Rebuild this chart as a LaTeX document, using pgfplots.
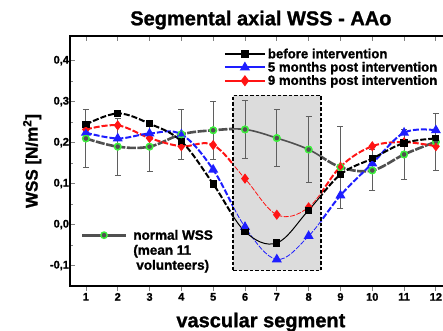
\documentclass[border=0pt]{standalone}
\usepackage{pgfplots}
\pgfplotsset{compat=1.18}
\usepackage{fontspec}
\setmainfont{Liberation Sans}[BoldFeatures={FakeBold=1.2}]
\definecolor{boxgray}{RGB}{220,220,220}
\definecolor{normgray}{RGB}{80,80,80}
\definecolor{errgray}{RGB}{95,95,95}
\definecolor{mygreen}{RGB}{60,240,60}
\definecolor{myblue}{RGB}{30,30,255}
\definecolor{myred}{RGB}{255,20,20}
\pgfplotstableread{
x  y      e
1  0.21   0.07
2  0.19   0.07
3  0.19   0.06
4  0.22   0.06
5  0.23   0.07
6  0.232  0.07
7  0.211  0.07
8  0.183  0.08
9  0.14   0.10
10 0.132  0.05
11 0.171  0.06
12 0.202  0.07
}\normaltab
\pgfplotstableread{
x  y
1  0.232
2  0.242
3  0.211
4  0.191
5  0.194
6  0.112
7  0.024
8  0.042
9  0.141
10 0.191
11 0.201
12 0.191
}\ninetab
\pgfplotstableread{
x  y
1  0.224
2  0.21
3  0.222
4  0.22
5  0.134
6  -0.006
7  -0.085
8  -0.028
9  0.071
10 0.149
11 0.224
12 0.23
}\fivetab
\pgfplotstableread{
x  y
1  0.244
2  0.271
3  0.246
4  0.203
5  0.099
6  -0.017
7  -0.045
8  0.035
9  0.122
10 0.161
11 0.199
12 0.21
}\beforetab
\begin{document}
\begin{tikzpicture}
\useasboundingbox (-70pt,-44pt) rectangle (373pt,286pt);
\clip (-70pt,-44pt) rectangle (373pt,286pt);
\begin{axis}[
  scale only axis, width=381.8pt, height=250pt,
  xmin=0.5, xmax=12.5, ymin=-0.15, ymax=0.46,
  xtick={1,2,3,4,5,6,7,8,9,10,11,12},
  ytick={-0.1,0,0.1,0.2,0.3,0.4},
  yticklabels={{-0,1},{0,0},{0,1},{0,2},{0,3},{0,4}},
  minor y tick num=1,
  tick align=center,
  major tick length=5pt, minor tick length=3pt,
  major x tick style={yshift=-2.5pt, line width=0.8pt},
  major y tick style={xshift=2.5pt, line width=0.8pt},
  minor y tick style={xshift=1.5pt, line width=0.8pt},
  ytick pos=left,
  axis line style={line width=1.2pt},
  axis on top,
  /pgf/number format/assume math mode=true,
  ticklabel style={font=\bfseries\fontsize{11}{13}\selectfont},
  x tick label style={yshift=-1pt},
  y tick label style={xshift=5pt},
  title={\bfseries\fontsize{20}{23}\selectfont Segmental axial WSS - AAo},
  title style={yshift=-3pt},
  xlabel={\bfseries\fontsize{20}{23}\selectfont vascular segment},
  xlabel style={yshift=-5pt},
  ylabel={\bfseries\fontsize{17}{20}\selectfont WSS [N/m$^{\mathbf 2}$]},
  ylabel style={yshift=2pt},
  legend style={at={(0.40,0.962)}, anchor=north west, draw=none, fill=none,
    font=\bfseries\fontsize{13.2}{15}\selectfont, row sep=-1.8pt,
    inner sep=1pt},
  legend cell align=left,
  legend image code/.code={\draw[mark repeat=2,mark phase=2,#1] plot coordinates {(0pt,0pt) (20pt,0pt) (40pt,0pt)};},
  legend image post style={solid, sharp plot},
]
% --- thick curves (outside the highlighted region) ---
\addplot[forget plot, color=normgray, line width=2.6pt, dash pattern=on 9pt off 1.5pt, smooth, tension=0.6,
  mark=*, mark size=3.2pt, mark options={solid, draw=mygreen, fill=normgray, line width=1.4pt},
  error bars/.cd, y dir=both, y explicit,
  error bar style={solid, line width=0.9pt, color=errgray},
  error mark options={rotate=90, mark size=3pt, line width=0.9pt, color=errgray}]
  table[x=x, y=y, y error=e] {\normaltab};
\addplot[forget plot, color=myred, line width=2pt, dash pattern=on 6pt off 2pt, smooth, tension=0.6,
  mark=diamond*, mark size=3.5pt, mark options={solid}] table[x=x,y=y] {\ninetab};
\addplot[forget plot, color=myblue, line width=2pt, dash pattern=on 6pt off 2pt, smooth, tension=0.6,
  mark=triangle*, mark size=3.8pt, mark options={solid}] table[x=x,y=y] {\fivetab};
\addplot[forget plot, color=black, line width=2pt, dash pattern=on 6pt off 2pt, smooth, tension=0.6,
  mark=square*, mark size=2.6pt, mark options={solid}] table[x=x,y=y] {\beforetab};
% --- highlighted region (covers the thick curves) ---
\addplot[forget plot, fill=boxgray, draw=none]
  coordinates {(5.63,-0.112) (8.39,-0.112) (8.39,0.315) (5.63,0.315) (5.63,-0.112)};
% --- thin curves inside the highlighted region ---
\begin{scope}
\clip (axis cs:5.63,-0.112) rectangle (axis cs:8.39,0.315);
\addplot[forget plot, color=normgray, line width=1.6pt, smooth, tension=0.6,
  mark=*, mark size=3.2pt, mark options={solid, draw=mygreen, fill=normgray, line width=1.4pt},
  error bars/.cd, y dir=both, y explicit,
  error bar style={solid, line width=0.7pt, color=errgray},
  error mark options={rotate=90, mark size=3pt, line width=0.7pt, color=errgray}]
  table[x=x, y=y, y error=e] {\normaltab};
\addplot[forget plot, color=myred, line width=0.8pt, dash pattern=on 5pt off 1.5pt, smooth, tension=0.6,
  mark=diamond*, mark size=3pt, mark options={solid}] table[x=x,y=y] {\ninetab};
\addplot[forget plot, color=myblue, line width=0.8pt, dash pattern=on 5pt off 1.5pt, smooth, tension=0.6,
  mark=triangle*, mark size=3.2pt, mark options={solid}] table[x=x,y=y] {\fivetab};
\addplot[forget plot, color=black, line width=1pt, smooth, tension=0.6,
  mark=square*, mark size=2.3pt, mark options={solid}] table[x=x,y=y] {\beforetab};
\end{scope}
\addplot[forget plot, draw=black, line width=1.8pt, dash pattern=on 3.5pt off 2pt]
  coordinates {(5.63,-0.112) (8.39,-0.112) (8.39,0.315) (5.63,0.315) (5.63,-0.112)};
\addlegendimage{color=black, line width=2pt, mark=square*, mark size=2.8pt}
\addlegendentry{before intervention}
\addlegendimage{color=myblue, line width=2pt, mark=triangle*, mark size=4pt}
\addlegendentry{5 months post intervention}
\addlegendimage{color=myred, line width=2pt, mark=diamond*, mark size=4pt}
\addlegendentry{9 months post intervention}
\end{axis}
\begin{axis}[
  scale only axis, width=381.8pt, height=250pt,
  xmin=0.5, xmax=12.5, ymin=-0.15, ymax=0.46,
  hide axis,
  legend style={at={(0.025,0.24)}, anchor=north west, draw=none, fill=none,
    font=\bfseries\fontsize{13.5}{15}\selectfont, inner sep=1pt},
  legend cell align=left,
  legend image code/.code={\draw[mark repeat=2,mark phase=2,#1] plot coordinates {(0pt,0pt) (22pt,0pt) (44pt,0pt)};},
]
\addlegendimage{color=normgray, line width=2.6pt, mark=*, mark size=3.2pt, mark options={draw=mygreen, fill=normgray, line width=1.4pt}}
\addlegendentry{\begin{tabular}[t]{@{\hspace{4pt}}l@{}}normal WSS\\(mean 11\\\hspace{3pt}volunteers)\end{tabular}}
\end{axis}
\end{tikzpicture}
\end{document}
